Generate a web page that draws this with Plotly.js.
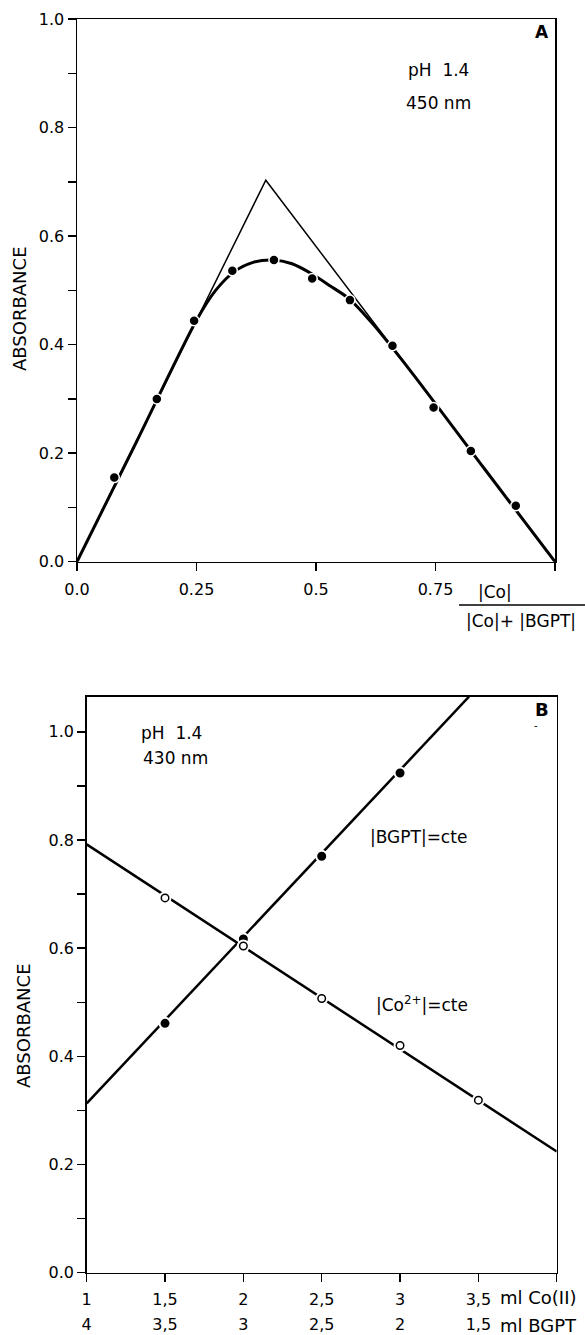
<!DOCTYPE html>
<html>
<head>
<meta charset="utf-8">
<script src="https://cdn.plot.ly/plotly-3.0.1.min.js"></script>
<style>html,body{margin:0;padding:0;background:#fff;}#chart{width:585px;height:1335px;}</style>
</head>
<body>
<div id="chart"></div>
<script>
// ---------- Panel A data (continuous variations, pH 1.4, 450 nm) ----------
const fracA = [0.078, 0.167, 0.245, 0.325, 0.412, 0.492, 0.571, 0.660, 0.746, 0.824, 0.918];
const absA  = [0.155, 0.300, 0.444, 0.536, 0.556, 0.522, 0.482, 0.398, 0.284, 0.204, 0.103];
const tangentX = [0, 0.395, 1.0];
const tangentY = [0, 0.703, 0];
const curveX = [0, 0.125, 0.25, 0.29, 0.33, 0.37, 0.41, 0.45, 0.49, 0.53, 0.57, 0.62, 0.70, 0.85, 1.0];
const curveY = [0, 0.222, 0.445, 0.500, 0.535, 0.552, 0.556, 0.549, 0.531, 0.508, 0.484, 0.437, 0.349, 0.174, 0];
const tickValsA = [0, 0.25, 0.5, 0.75];
const tickTextA = ["0.0", "0.25", "0.5", "0.75"];
const endTickA = [1.0];

// ---------- Panel B data (pH 1.4, 430 nm) ----------
const mlCo = [1, 1.5, 2, 2.5, 3, 3.5];
const mlCoText = ["1", "1,5", "2", "2,5", "3", "3,5"];
const mlBgptText = ["4", "3,5", "3", "2,5", "2", "1,5"];
const endTickB = [4];
const bgptX = [1.5, 2, 2.5, 3];
const bgptY = [0.461, 0.617, 0.770, 0.924];
const coX = [1.5, 2, 2.5, 3, 3.5];
const coY = [0.693, 0.604, 0.507, 0.420, 0.319];
const bgptFitX = [1, 3.44];
const bgptFitY = [0.313, 1.065];
const coFitX = [1, 4];
const coFitY = [0.792, 0.224];

const FONT = "DejaVu Sans";
const W = 585, H = 1335;
const px = v => v / W;
const py = v => 1 - v / H;

const traces = [
  {x: tangentX, y: tangentY, xaxis: 'x', yaxis: 'y', mode: 'lines',
   line: {color: '#000', width: 1.5}, hoverinfo: 'skip'},
  {x: curveX, y: curveY, xaxis: 'x', yaxis: 'y', mode: 'lines',
   line: {color: '#000', width: 3, shape: 'spline', smoothing: 0.8}, hoverinfo: 'skip'},
  {x: fracA, y: absA, xaxis: 'x', yaxis: 'y', mode: 'markers',
   marker: {color: '#000', size: 10, line: {color: '#fff', width: 1.5}}},

  {x: bgptFitX, y: bgptFitY, xaxis: 'x2', yaxis: 'y2', mode: 'lines',
   line: {color: '#000', width: 2.5}, hoverinfo: 'skip'},
  {x: coFitX, y: coFitY, xaxis: 'x2', yaxis: 'y2', mode: 'lines',
   line: {color: '#000', width: 2.5}, hoverinfo: 'skip'},
  {x: bgptX, y: bgptY, xaxis: 'x2', yaxis: 'y2', mode: 'markers',
   marker: {color: '#000', size: 11, line: {color: '#fff', width: 2}}},
  {x: coX, y: coY, xaxis: 'x2', yaxis: 'y2', mode: 'markers',
   marker: {color: '#fff', size: 13, line: {color: '#fff', width: 0}}, hoverinfo: 'skip'},
  {x: coX, y: coY, xaxis: 'x2', yaxis: 'y2', mode: 'markers',
   marker: {color: '#fff', size: 7.5, line: {color: '#000', width: 1.5}}},
  // carrier for the second (ml BGPT) tick row, drawn invisibly on the overlay axis
  {x: mlCo, y: mlCo.map(() => 0.5), xaxis: 'x3', yaxis: 'y2', mode: 'markers',
   marker: {opacity: 0, size: 1}, hoverinfo: 'skip'}
];

const axBase = {
  showline: true, linecolor: '#000', linewidth: 1.5, mirror: true,
  showgrid: false, zeroline: false,
  ticks: 'outside', ticklen: 8, tickwidth: 1.5, tickcolor: '#000',
  tickfont: {family: FONT, size: 16, color: '#000'}
};
const minorTick = {ticks: 'outside', ticklen: 8, tickwidth: 1.5, tickcolor: '#000', showgrid: false};

function ann(text, x, y, size, extra) {
  return Object.assign({text: text, x: px(x), y: py(y), xref: 'paper', yref: 'paper',
    showarrow: false, xanchor: 'center', yanchor: 'middle',
    font: {family: FONT, size: size, color: '#000'}}, extra || {});
}

const layout = {
  width: W, height: H,
  margin: {l: 0, r: 0, t: 0, b: 0},
  paper_bgcolor: '#fff', plot_bgcolor: '#fff',
  showlegend: false,
  font: {family: FONT, color: '#000'},
  xaxis: Object.assign({}, axBase, {
    domain: [px(77), px(555)], anchor: 'y', range: [0, 1],
    tickmode: 'array', tickvals: tickValsA, ticktext: tickTextA, ticklabelstandoff: 5,
    minor: Object.assign({tickmode: 'array', tickvals: endTickA}, minorTick)
  }),
  yaxis: Object.assign({}, axBase, {
    domain: [py(561.7), py(19)], anchor: 'x', range: [0, 1],
    tickmode: 'linear', tick0: 0, dtick: 0.2, tickformat: '.1f',
    minor: Object.assign({dtick: 0.1}, minorTick)
  }),
  xaxis2: Object.assign({}, axBase, {
    domain: [px(86.7), px(556.7)], anchor: 'y2', range: [1, 4],
    tickmode: 'array', tickvals: mlCo, ticktext: mlCoText, ticklabelstandoff: 4,
    minor: Object.assign({tickmode: 'array', tickvals: endTickB}, minorTick)
  }),
  xaxis3: {
    overlaying: 'x2', anchor: 'y2', side: 'bottom', range: [1, 4],
    showline: false, showgrid: false, zeroline: false, ticks: '',
    tickmode: 'array', tickvals: mlCo, ticktext: mlBgptText,
    tickfont: {family: FONT, size: 16, color: '#000'}, ticklabelstandoff: 40
  },
  yaxis2: Object.assign({}, axBase, {
    domain: [py(1272.7), py(696.7)], anchor: 'x2', range: [0, 1.065],
    tickmode: 'linear', tick0: 0, dtick: 0.2, tickformat: '.1f',
    minor: Object.assign({dtick: 0.1}, minorTick)
  }),
  shapes: [
    {type: 'line', xref: 'paper', yref: 'paper', x0: px(459), x1: px(585), y0: py(605), y1: py(605),
     line: {color: '#000', width: 1.5}}
  ],
  annotations: [
    ann('pH  1.4', 438, 70, 17),
    ann('450 nm', 438, 103, 17),
    ann('<b>A</b>', 542, 32, 17),
    ann('ABSORBANCE', 20, 309, 18, {textangle: -90}),
    ann('|Co|', 495, 592, 17),
    ann('|Co|+ |BGPT|', 521, 621, 17),

    ann('pH  1.4', 171, 733, 17),
    ann('430 nm', 175, 758, 17),
    ann('<b>B</b>', 542, 709, 18),
    ann('-', 536, 726, 10),
    ann('|BGPT|=cte', 418, 837, 17),
    ann('|Co<sup>2+</sup>|=cte', 422, 1004, 17),
    ann('ABSORBANCE', 23, 1026, 18, {textangle: -90}),
    ann('ml Co(II)', 498, 1297, 18, {xanchor: 'left'}),
    ann('ml BGPT', 498, 1325, 18, {xanchor: 'left'})
  ]
};

Plotly.newPlot('chart', traces, layout, {staticPlot: true, displayModeBar: false});
</script>
</body>
</html>
